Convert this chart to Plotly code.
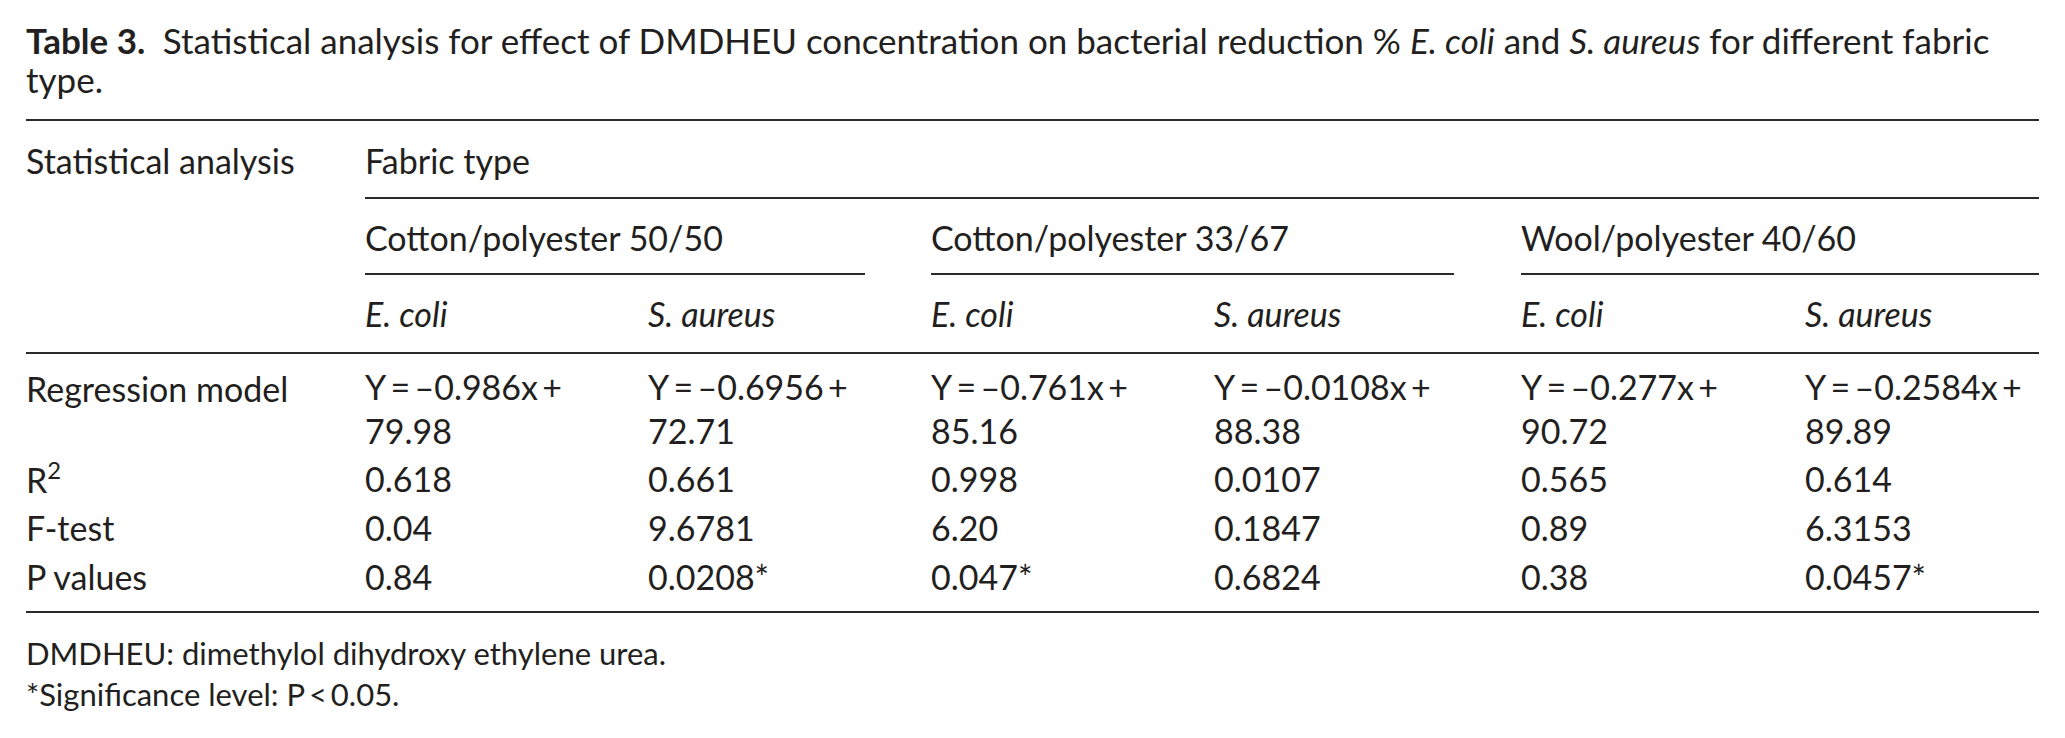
import plotly.graph_objects as go

# table content
title_bold = "Table 3."
title_lines = ["Statistical analysis for effect of DMDHEU concentration on bacterial reduction % "
               "<i>E. coli</i> and <i>S. aureus</i> for different fabric",
               "type."]
stub_header = "Statistical analysis"
spanner = "Fabric type"
fabrics = ["Cotton/polyester 50/50", "Cotton/polyester 33/67", "Wool/polyester 40/60"]
bacteria = ["E. coli", "S. aureus"]
row_labels = ["Regression model", "R<sup>2</sup>", "F-test", "P values"]

slopes = ["–0.986x", "–0.6956", "–0.761x", "–0.0108x", "–0.277x", "–0.2584x"]
intercepts = ["79.98", "72.71", "85.16", "88.38", "90.72", "89.89"]
r_squared = ["0.618", "0.661", "0.998", "0.0107", "0.565", "0.614"]
f_test = ["0.04", "9.6781", "6.20", "0.1847", "0.89", "6.3153"]
p_values = ["0.84", "0.0208*", "0.047*", "0.6824", "0.38", "0.0457*"]

footnotes = ["DMDHEU: dimethylol dihydroxy ethylene urea.",
             "*Significance level: P\u2009&lt;\u20090.05."]

# layout (page pixels; the page body adds an 8px margin)
W, H = 2065, 738
PAD = 8
FONT = "Lato"
SIZE = 34
INK = "#231f20"
left, right = 24, 2039
col_x = [363, 646, 929, 1212, 1519, 1803]
group_x = [(365, 865), (931, 1454), (1521, 2039)]

fig = go.Figure()
fig.add_trace(go.Scatter(x=[PAD, W - PAD], y=[PAD, H - PAD], mode="markers", marker=dict(opacity=0),
                         hoverinfo="skip", showlegend=False))


def text(x, y, s, size=SIZE):
    fig.add_annotation(x=x, y=y, text=s, xref="x", yref="y", xanchor="left", yanchor="middle",
                       showarrow=False, align="left", font=dict(family=FONT, size=size, color=INK))


def rule(x0, x1, y):
    fig.add_shape(type="line", x0=x0, x1=x1, y0=y, y1=y, xref="x", yref="y",
                  line=dict(color="#2b2b2b", width=2))


# caption
text(left, 40, f"<b>{title_bold}</b>\u2002{title_lines[0]}", size=35)
text(left, 79, title_lines[1], size=35)

rule(left + 2, right, 120)
text(left, 160, stub_header)
text(col_x[0], 160, spanner)
rule(group_x[0][0], right, 198)

for (gx0, gx1), name in zip(group_x, fabrics):
    text(gx0 - 2, 237, name)
    rule(gx0, gx1, 274)

for i, cx in enumerate(col_x):
    text(cx, 313, f"<i>{bacteria[i % 2]}</i>")

rule(left + 2, right, 353)

row_y = [408, 478, 527, 576]
for label, ry in zip(row_labels, row_y):
    text(left, 388 if ry == 408 else ry, label)

for i, cx in enumerate(col_x):
    text(cx, row_y[0], f"Y\u2009=\u2009{slopes[i]}\u2009+<br>{intercepts[i]}")
    text(cx, row_y[1], r_squared[i])
    text(cx, row_y[2], f_test[i])
    text(cx, row_y[3], p_values[i])

rule(left + 2, right, 612)

for note, ny in zip(footnotes, [653, 694]):
    text(left, ny, note, size=31)

fig.update_xaxes(range=[PAD, W - PAD], visible=False, fixedrange=True)
fig.update_yaxes(range=[H - PAD, PAD], visible=False, fixedrange=True)
fig.update_layout(width=W - 2 * PAD, height=H - 2 * PAD, margin=dict(l=0, r=0, t=0, b=0),
                  paper_bgcolor="white", plot_bgcolor="white")

fig.write_html("out.html")
